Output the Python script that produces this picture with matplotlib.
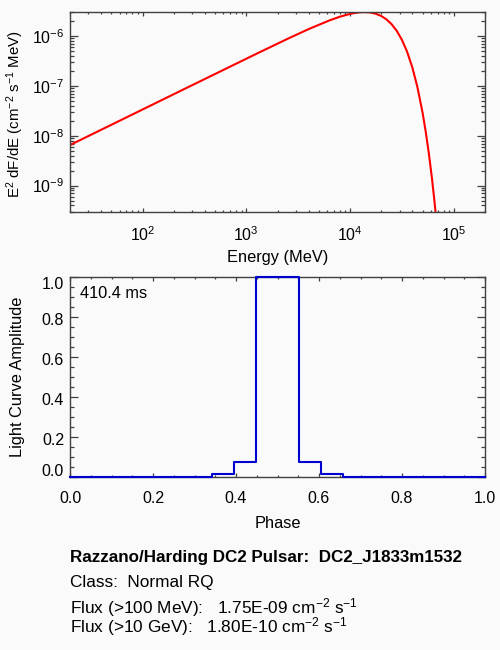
import matplotlib
matplotlib.use('Agg')
import matplotlib.pyplot as plt
from matplotlib.ticker import MultipleLocator, LogLocator, NullFormatter

# ---- data ----
energy_mev = [20.0, 39.8, 100.0, 251.0, 631.0, 1259.0, 2512.0, 3981.0, 6310.0, 7943.0,
              10000.0, 11220.0, 12590.0, 14130.0, 15850.0, 17780.0, 19950.0, 22390.0,
              25120.0, 28180.0, 31620.0, 35480.0, 39810.0, 44670.0, 50120.0, 53700.0,
              57540.0, 61660.0, 64570.0, 67610.0]
e2_dfde = [6.52e-9, 1.315e-8, 3.365e-8, 8.61e-8, 2.198e-7, 4.436e-7, 8.85e-7, 1.377e-6,
           2.056e-6, 2.438e-6, 2.786e-6, 2.917e-6, 3.006e-6, 3.027e-6, 2.965e-6, 2.799e-6,
           2.535e-6, 2.173e-6, 1.738e-6, 1.279e-6, 8.43e-7, 4.864e-7, 2.377e-7, 9.40e-8,
           2.858e-8, 1.199e-8, 4.406e-9, 1.384e-9, 5.81e-10, 2.239e-10]

phase = [0.0, 0.0526, 0.1053, 0.1579, 0.2105, 0.2632, 0.3158, 0.3684, 0.4211, 0.4737,
         0.5263, 0.5789, 0.6316, 0.6842, 0.7368, 0.7895, 0.8421, 0.8947, 0.9474, 1.0]
amplitude = [0, 0, 0, 0, 0, 0, 0, 0.015, 0.075, 1.0,
             1.0, 0.075, 0.015, 0, 0, 0, 0, 0, 0, 0]

amp_ticks = [0.0, 0.2, 0.4, 0.6, 0.8, 1.0]
amp_tick_labels = ["0.0", "0.2", "0.4", "0.6", "0.8", "1.0"]

period_text = "410.4 ms"
title_line = "Razzano/Harding DC2 Pulsar:  DC2_J1833m1532"
class_line = "Class:  Normal RQ"
flux100_line = r"Flux (>100 MeV):   1.75E-09 cm$^{-2}$ s$^{-1}$"
flux10g_line = r"Flux (>10 GeV):   1.80E-10 cm$^{-2}$ s$^{-1}$"

# ---- style ----
plt.rcParams['font.family'] = ['Liberation Sans', 'DejaVu Sans']
plt.rcParams['mathtext.fontset'] = 'custom'
plt.rcParams['mathtext.rm'] = 'Liberation Sans'
plt.rcParams['mathtext.it'] = 'Liberation Sans:italic'
plt.rcParams['mathtext.bf'] = 'Liberation Sans:bold'

BG = '#fafafa'
AX = '#404040'
FS = 11.8
TFS = 11.5
IFS = 12.4

W, H = 500, 650
fig = plt.figure(figsize=(5, 6.5), dpi=100, facecolor=BG)


def fx(px):
    return px / W


def fy(py):
    return 1 - py / H


def style_axes(ax):
    ax.set_facecolor(BG)
    for s in ax.spines.values():
        s.set_color(AX)
        s.set_linewidth(1.0)
    ax.tick_params(which='both', direction='in', top=True, right=True,
                   color=AX, labelsize=TFS, labelcolor='black', width=0.9)
    ax.tick_params(axis='x', which='major', length=2.9, pad=10)
    ax.tick_params(axis='x', which='minor', length=1.5)
    ax.tick_params(axis='y', which='major', length=6.0, pad=4)
    ax.tick_params(axis='y', which='minor', length=3.0)


# ---- top: spectrum ----
ax1 = fig.add_axes([fx(70), fy(211.7), fx(415), 199.4 / H])
style_axes(ax1)
ax1.plot(energy_mev, e2_dfde, color='#ff0000', lw=1.5)
ax1.set_xscale('log')
ax1.set_yscale('log')
ax1.set_xlim(20, 2e5)
ax1.set_ylim(3e-10, 3e-6)
ax1.xaxis.set_major_locator(LogLocator(base=10, numticks=10))
ax1.xaxis.set_minor_locator(LogLocator(base=10, subs=range(2, 10), numticks=20))
ax1.xaxis.set_minor_formatter(NullFormatter())
ax1.yaxis.set_major_locator(LogLocator(base=10, numticks=10))
ax1.yaxis.set_minor_locator(LogLocator(base=10, subs=range(2, 10), numticks=20))
ax1.yaxis.set_minor_formatter(NullFormatter())

fig.text(fx(277.5), fy(262), "Energy (MeV)", ha='center', va='baseline', fontsize=FS)
fig.text(fx(15.5), fy(114), r"E$^{2}$ dF/dE (cm$^{-2}$ s$^{-1}$ MeV)", ha='center',
         va='center', rotation=90, fontsize=10.8)

# ---- bottom: light curve ----
ax2 = fig.add_axes([fx(70), fy(477.3), fx(415), 200 / H])
style_axes(ax2)
ax2.step(phase, amplitude, where='mid', color='#0000d0', lw=1.5, clip_on=False, zorder=3)
ax2.set_xlim(0, 1)
ax2.set_ylim(0, 1)
ax2.xaxis.set_major_locator(MultipleLocator(0.2))
ax2.xaxis.set_minor_locator(MultipleLocator(0.05))
ax2.set_yticks(amp_ticks)
ax2.yaxis.set_minor_locator(MultipleLocator(0.05))
ax2.xaxis.set_major_formatter(lambda v, p: f"{v:.1f}")
ax2.tick_params(axis='y', which='both', labelleft=False)
# y tick labels drawn as annotations (end labels sit inside the frame as in the reference)
label_shift_px = {0.0: 5.5, 1.0: -7.5}
for v, s in zip(amp_ticks, amp_tick_labels):
    dy = label_shift_px.get(v, -3.0) / 1.389
    ax2.annotate(s, xy=(0, v), xycoords=('axes fraction', 'data'),
                 xytext=(-4.3, dy), textcoords='offset points', ha='right',
                 va='center', fontsize=TFS, annotation_clip=False)

fig.text(fx(277.5), fy(528.3), "Phase", ha='center', va='baseline', fontsize=FS)
fig.text(fx(18), fy(377), "Light Curve Amplitude", ha='center', va='center',
         rotation=90, fontsize=FS)
fig.text(fx(80), fy(298.3), period_text, ha='left', va='baseline', fontsize=FS)

# ---- info text ----
fig.text(fx(70), fy(562.3), title_line, ha='left', va='baseline', fontsize=12.25,
         fontweight='bold')
fig.text(fx(70), fy(587.3), class_line, ha='left', va='baseline', fontsize=IFS)
fig.text(fx(70), fy(613.3), flux100_line, ha='left', va='baseline', fontsize=IFS)
fig.text(fx(70), fy(632.3), flux10g_line, ha='left', va='baseline', fontsize=IFS)

fig.savefig('out.png', dpi=100, facecolor=BG)
